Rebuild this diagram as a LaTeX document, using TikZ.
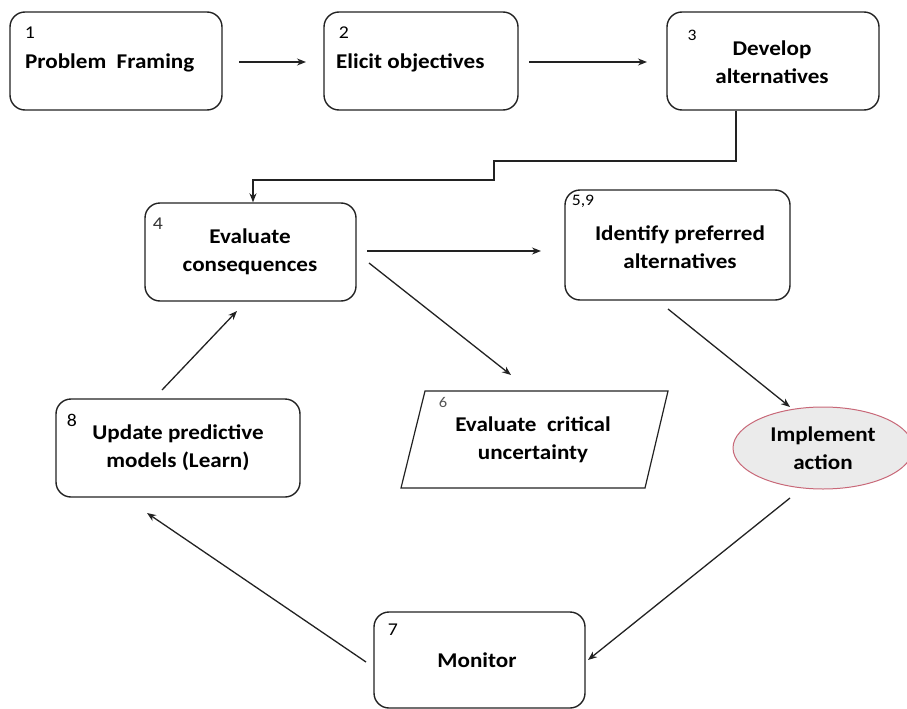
\documentclass[tikz,border=0pt]{standalone}
\usepackage{fontspec}
\setmainfont{Carlito}[FakeStretch=1.1]
\usetikzlibrary{arrows.meta,shapes.geometric}
\definecolor{linecol}{HTML}{222222}
\definecolor{ellfill}{HTML}{EBEBEB}
\definecolor{elldraw}{HTML}{C86878}
\definecolor{numgrey}{HTML}{555555}
\tikzset{
  box/.style={draw=linecol, line width=1.4pt, rounded corners=15pt, inner sep=0pt},
  lbl/.style={inner sep=0pt, font=\fontsize{21}{28}\selectfont\bfseries, text=black, align=center},
  num/.style={inner sep=0pt, font=\fontsize{18}{20}\selectfont, text=black},
  arr/.style={draw=linecol, line width=1.3pt, -{Stealth[length=9pt,width=7pt]}},
  conn/.style={draw=linecol, line width=1.3pt}
}
\begin{document}
\begin{tikzpicture}[x=1pt,y=-1pt]
\useasboundingbox (0,0) rectangle (907,709);
% boxes
\node[box, minimum width=212pt, minimum height=98pt] (b1) at (116,61) {};
\node[box, minimum width=194pt, minimum height=98pt] (b2) at (421,61) {};
\node[box, minimum width=212pt, minimum height=98pt] (b3) at (773,61) {};
\node[box, minimum width=211pt, minimum height=98pt] (b4) at (250.5,252) {};
\node[box, minimum width=225pt, minimum height=110pt] (b5) at (677.5,245) {};
\node[box, minimum width=244pt, minimum height=98pt] (b8) at (178,448) {};
\node[box, minimum width=211pt, minimum height=96pt] (b7) at (479.5,660) {};
% parallelogram
\draw[draw=linecol, line width=1.2pt] (425,391) -- (668,391) -- (645,488) -- (401,488) -- cycle;
\node[inner sep=0pt, minimum width=240pt, minimum height=97pt] (p6) at (534,440) {};
% ellipse
\node[ellipse, draw=elldraw, fill=ellfill, line width=1pt, minimum width=180pt, minimum height=82pt, inner sep=0pt] (im) at (823,448) {};
% texts
\node[num] (n1) at (30,33) {1};
\node[lbl, anchor=west] (t1) at (25,63) {Problem\ \ Framing};
\node[num] (n2) at (344,33) {2};
\node[lbl, anchor=west] (t2) at (336,63) {Elicit objectives};
\node[num, font=\fontsize{16}{18}\selectfont] (n3) at (692,35) {3};
\node[lbl] (t3) at (772,62) {Develop\\alternatives};
\node[num, text=numgrey!60!black] (n4) at (158,224) {4};
\node[lbl] (t4) at (250,252) {Evaluate\\consequences};
\node[num, font=\fontsize{16}{18}\selectfont] (n5) at (583,201) {5,9};
\node[lbl] (t5) at (680,247) {Identify preferred\\alternatives};
\node[num, font=\fontsize{15}{17}\selectfont, text=numgrey] (n6) at (443,402) {6};
\node[lbl] (t6) at (533,440) {Evaluate\ \ critical\\uncertainty};
\node[lbl] (t7) at (823,448) {Implement\\action};
\node[num] (n8) at (72,420) {8};
\node[lbl] (t8) at (178,448) {Update predictive\\models (Learn)};
\node[num] (n7) at (393,630) {7};
\node[lbl] (t9) at (477,660) {Monitor};
% connectors
\draw[arr] ([shift={(123,1)}]b1.center) -- ([shift={(-115,1)}]b2.center);
\draw[arr] ([shift={(108,1)}]b2.center) -- ([shift={(-126,1)}]b3.center);
\coordinate (j1) at (736,161);
\coordinate (j2) at (494,161);
\coordinate (j3) at (494,180);
\coordinate (j4) at (253,180);
\draw[arr] ([xshift=-37pt]b3.south) -- (j1) -- (j2) -- (j3) -- (j4) -- (j4 |- b4.north);
\draw[arr] ([shift={(116.5,-1)}]b4.center) -- ([shift={(-136.5,6)}]b5.center);
\draw[arr] ([shift={(118.5,11)}]b4.center) -- ([shift={(-23,-65)}]p6.center);
\draw[arr] ([shift={(-16,-58)}]b8.center) -- ([shift={(-13.5,59)}]b4.center);
\draw[arr] ([shift={(-9.5,64)}]b5.center) -- ([shift={(-33,-41)}]im.center);
\draw[arr] ([shift={(-33,50)}]im.center) -- ([shift={(108.5,0)}]b7.center);
\draw[arr] ([shift={(-113.5,2)}]b7.center) -- ([shift={(-31,65)}]b8.center);
\end{tikzpicture}
\end{document}
